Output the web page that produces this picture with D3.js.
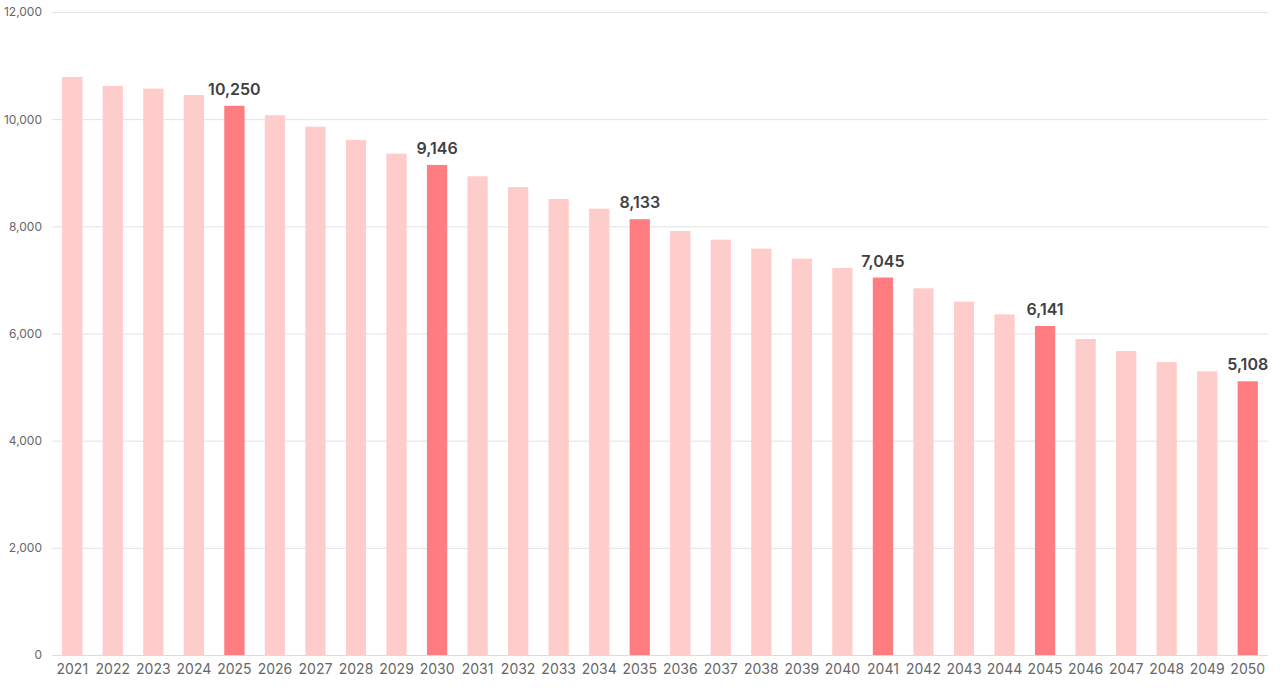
<!DOCTYPE html>
<html>
<head>
<meta charset="utf-8">
<script src="https://cdn.jsdelivr.net/npm/d3@7"></script>
<style>
  body { margin: 0; background: #fff; }
  text { font-family: Inter, "Noto Sans", sans-serif; }
</style>
</head>
<body>
<script>
// chart data
let years = d3.range(2021, 2051).map(String)
let values = [10787, 10620, 10570, 10451, 10250, 10073, 9860, 9612, 9357, 9146,
              8934, 8734, 8510, 8330, 8133, 7913, 7751, 7583, 7396, 7223,
              7045, 6844, 6594, 6358, 6141, 5898, 5674, 5468, 5295, 5108]
let highlighted = ['2025', '2030', '2035', '2041', '2045', '2050']
let yTicks = [0, 2000, 4000, 6000, 8000, 10000, 12000]

let width = 1280
let height = 688
let margin = {top: 12, right: 12, bottom: 33, left: 52}

let svg = d3.select('body')
    .append('svg')
    .attr('width', width)
    .attr('height', height)

let xScale = d3.scaleBand()
    .domain(years)
    .range([margin.left, width - margin.right])
    .paddingInner(0.5)
    .paddingOuter(0.25)

let yScale = d3.scaleLinear()
    .domain([0, 12000])
    .range([height - margin.bottom, margin.top])

// gridlines + y labels
let yAxis = d3.axisLeft(yScale)
    .tickValues(yTicks)
    .tickSize(-(width - margin.left - margin.right))
    .tickPadding(10)
    .tickFormat(d3.format(','))

svg.append('g')
    .attr('transform', 'translate(' + margin.left + ',0)')
    .call(yAxis)
    .call(g => g.select('.domain').remove())
    .call(g => g.selectAll('.tick line').attr('stroke', '#e2e2e2').attr('stroke-width', 1))
    .call(g => g.selectAll('.tick text').attr('fill', '#666').style('font-size', '12px'))

// bars
svg.selectAll('.bar')
    .data(years)
    .enter().append('rect')
    .attr('class', 'bar')
    .attr('x', d => xScale(d))
    .attr('y', (d, i) => yScale(values[i]))
    .attr('width', xScale.bandwidth())
    .attr('height', (d, i) => yScale(0) - yScale(values[i]))
    .attr('fill', d => highlighted.includes(d) ? '#ff7c80' : '#ffcccc')

// baseline over the bars
svg.append('line')
    .attr('x1', margin.left)
    .attr('x2', width - margin.right)
    .attr('y1', yScale(0) + 0.5)
    .attr('y2', yScale(0) + 0.5)
    .attr('stroke', '#dcdcdc')

// x labels
let xAxis = d3.axisBottom(xScale).tickSize(0).tickPadding(9)
svg.append('g')
    .attr('transform', 'translate(0,' + yScale(0) + ')')
    .call(xAxis)
    .call(g => g.select('.domain').remove())
    .call(g => g.selectAll('.tick text').attr('fill', '#666').style('font-size', '14px'))

// value labels on highlighted bars
svg.selectAll('.value')
    .data(years.filter(d => highlighted.includes(d)))
    .enter().append('text')
    .attr('class', 'value')
    .attr('x', d => xScale(d) + xScale.bandwidth() / 2)
    .attr('y', d => yScale(values[years.indexOf(d)]) - 11)
    .attr('text-anchor', 'middle')
    .attr('fill', '#404040')
    .style('font-size', '16px')
    .style('font-weight', '600')
    .text(d => d3.format(',')(values[years.indexOf(d)]))
</script>
</body>
</html>
